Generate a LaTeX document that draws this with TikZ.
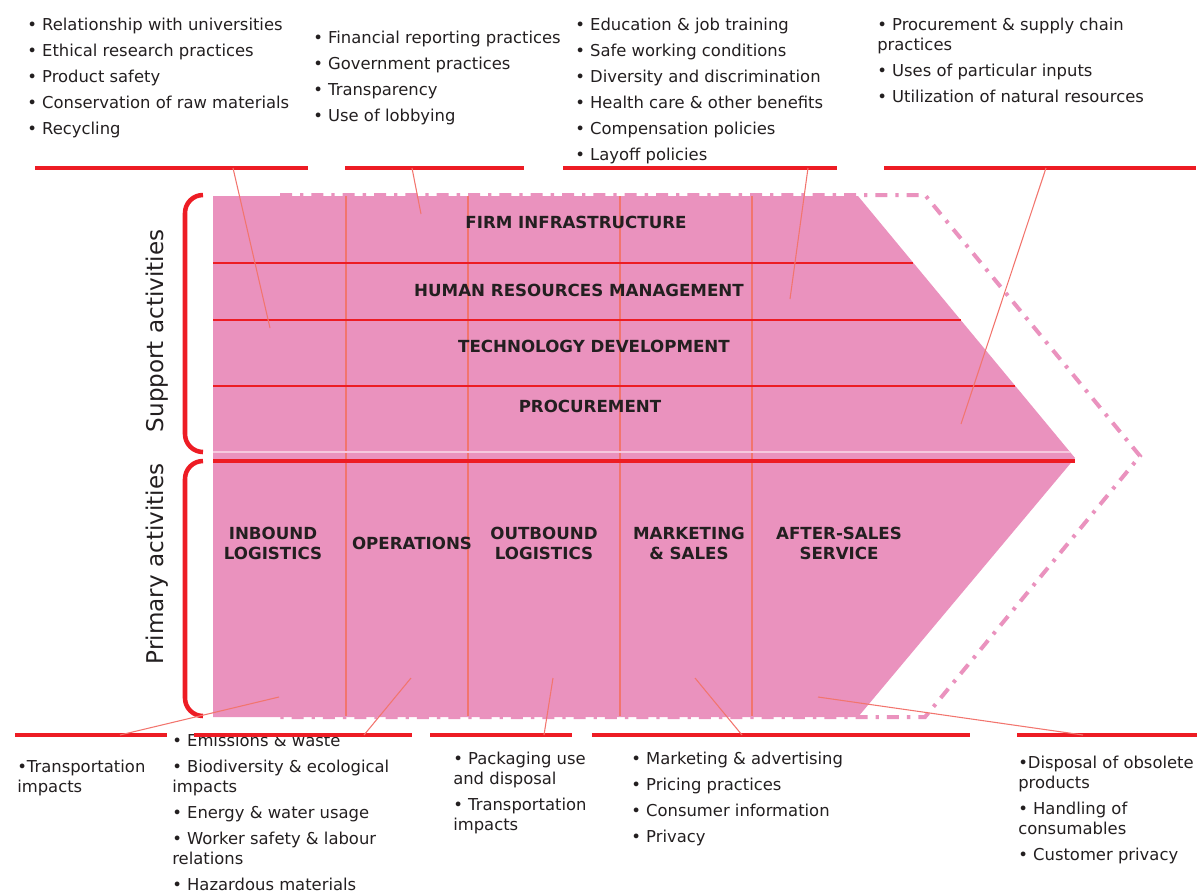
\documentclass[tikz,border=0pt]{standalone}
\usepackage{fontspec}
\setmainfont{DejaVu Sans}
\definecolor{vcpink}{RGB}{234,146,190}
\definecolor{vcred}{RGB}{237,28,36}
\definecolor{vcsalmon}{RGB}{242,117,110}
\definecolor{vcpale}{RGB}{246,200,222}
\definecolor{vctext}{RGB}{35,31,32}
\begin{document}
\begin{tikzpicture}[x=0.75pt,y=-0.75pt,
  bar/.style={vcred,line width=3pt},
  rowline/.style={vcred,line width=1.5pt},
  colline/.style={vcsalmon,line width=1.1pt},
  leader/.style={vcsalmon,line width=0.8pt},
  brace/.style={vcred,line width=3.4pt,rounded corners=13.5pt},
  blurb/.style={anchor=north west,inner sep=0pt,align=left,text=vctext,font=\fontsize{12.3}{15}\selectfont},
  act/.style={inner sep=0pt,align=center,text=vctext,font=\bfseries\fontsize{12.5}{15}\selectfont},
  side/.style={inner sep=0pt,rotate=90,text=vctext,font=\fontsize{17.3}{20}\selectfont}]
  \useasboundingbox (0,0) rectangle (1199,893);
  % the chevron
  \coordinate (tl) at (213,196);
  \coordinate (tr) at (858,196);
  \coordinate (tip) at (1075,458);
  \coordinate (br) at (858,717);
  \coordinate (bl) at (213,717);
  \fill[vcpink] (tl) -- (tr) -- (tip) -- (br) -- (bl) -- cycle;
  \draw[vcpink,line width=3pt,dash pattern=on 9pt off 6pt on 2.5pt off 6pt]
    (280,195) -- (925,195) -- (1140,456) -- (925,717) -- (280,717);
  \foreach \x in {346,468,620,752}
    \draw[colline] (\x,196) -- (\x,716);
  \foreach \y/\e in {263/913,320/961,386/1015}
    \draw[rowline] (213,\y) -- (\e,\y);
  \draw[vcpale,line width=0.8pt] (213,452) -- (1070,452);
  \draw[bar] (213,461) -- (1075,461);
  % support activities
  \node[act] (firm) at (576,222) {FIRM INFRASTRUCTURE};
  \node[act] (hrm) at (579,290) {HUMAN RESOURCES MANAGEMENT};
  \node[act] (tech) at (594,346) {TECHNOLOGY DEVELOPMENT};
  \node[act] (proc) at (590,406) {PROCUREMENT};
  % primary activities
  \node[act] (inlog) at (273,543) {INBOUND\\LOGISTICS};
  \node[act] (ops) at (412,543) {OPERATIONS};
  \node[act] (outlog) at (544,543) {OUTBOUND\\LOGISTICS};
  \node[act] (mkt) at (689,543) {MARKETING\\\& SALES};
  \node[act] (serv) at (839,543) {AFTER-SALES\\SERVICE};
  % brackets
  \draw[brace] (203,195) -- (185,195) -- (185,452) -- (203,452);
  \draw[brace] (203,461) -- (185,461) -- (185,716) -- (203,716);
  \node[side] (supp) at (157,331) {Support activities};
  \node[side] (prim) at (157,564) {Primary activities};
  % issues above
  \node[blurb] (rnd) at (27,18) {• Relationship with universities\\[4.5pt]• Ethical research practices\\[4.5pt]• Product safety\\[4.5pt]• Conservation of raw materials\\[4.5pt]• Recycling};
  \node[blurb] (gov) at (313,31) {• Financial reporting practices\\[4.5pt]• Government practices\\[4.5pt]• Transparency\\[4.5pt]• Use of lobbying};
  \node[blurb] (hr) at (575,18) {• Education \& job training\\[4.5pt]• Safe working conditions\\[4.5pt]• Diversity and discrimination\\[4.5pt]• Health care \& other benefits\\[4.5pt]• Compensation policies\\[4.5pt]• Layoff policies};
  \node[blurb] (supply) at (877,18) {• Procurement \& supply chain\\practices\\[4.5pt]• Uses of particular inputs\\[4.5pt]• Utilization of natural resources};
  % issues below
  \node[blurb] (trans) at (17,760) {•Transportation\\impacts};
  \node[blurb] (emis) at (172,734) {• Emissions \& waste\\[4.5pt]• Biodiversity \& ecological\\impacts\\[4.5pt]• Energy \& water usage\\[4.5pt]• Worker safety \& labour\\relations\\[4.5pt]• Hazardous materials};
  \node[blurb] (pack) at (453,752) {• Packaging use\\and disposal\\[4.5pt]• Transportation\\impacts};
  \node[blurb] (adv) at (631,752) {• Marketing \& advertising\\[4.5pt]• Pricing practices\\[4.5pt]• Consumer information\\[4.5pt]• Privacy};
  \node[blurb] (disp) at (1018,756) {•Disposal of obsolete\\products\\[4.5pt]• Handling of\\consumables\\[4.5pt]• Customer privacy};
  % red rules
  \foreach \a/\b in {35/308,345/524,563/837,884/1196}
    \draw[bar] (\a,168) -- (\b,168);
  \foreach \a/\b in {15/167,194/412,430/572,592/970,1017/1197}
    \draw[bar] (\a,735) -- (\b,735);
  % leaders
  \coordinate (t1) at (233,168);  \coordinate (s1) at (270,328);
  \coordinate (t2) at (412,168);  \coordinate (s2) at (421,214);
  \coordinate (t3) at (808,168);  \coordinate (s3) at (790,299);
  \coordinate (t4) at (1046,168); \coordinate (s4) at (961,424);
  \coordinate (b1) at (120,735);  \coordinate (p1) at (279,697);
  \coordinate (b2) at (364,735);  \coordinate (p2) at (411,678);
  \coordinate (b3) at (544,735);  \coordinate (p3) at (553,678);
  \coordinate (b4) at (742,735);  \coordinate (p4) at (695,678);
  \coordinate (b5) at (1083,735); \coordinate (p5) at (818,697);
  \foreach \i in {1,...,4}
    \draw[leader] (t\i) -- (s\i);
  \foreach \i in {1,...,5}
    \draw[leader] (b\i) -- (p\i);
\end{tikzpicture}
\end{document}
